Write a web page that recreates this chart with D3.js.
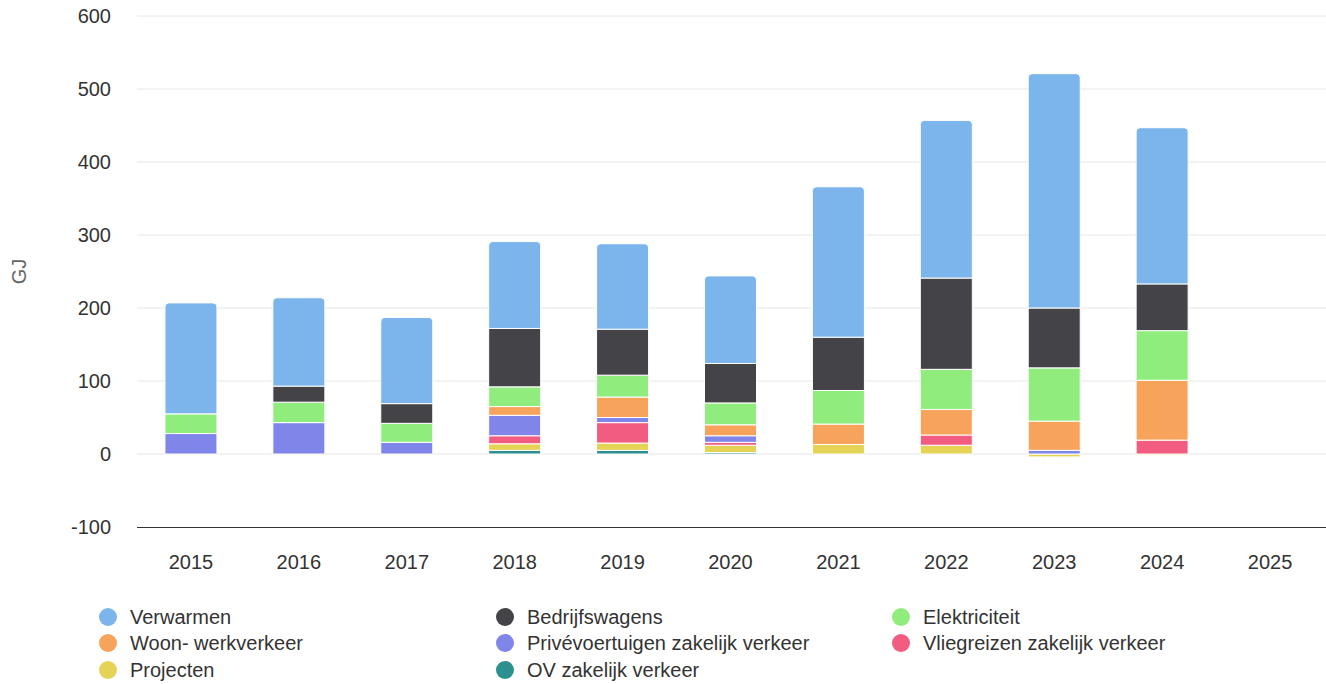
<!DOCTYPE html>
<html>
<head>
<meta charset="utf-8">
<script src="https://cdn.jsdelivr.net/npm/d3@7"></script>
<style>
  body { margin: 0; background: #fff; }
  svg text { font-family: "Liberation Sans", Arial, sans-serif; }
</style>
</head>
<body>
<script>
// chart data (GJ per year, per source)
var years = ["2015", "2016", "2017", "2018", "2019", "2020", "2021", "2022", "2023", "2024", "2025"];
var seriesNames = ["Verwarmen", "Bedrijfswagens", "Elektriciteit", "Woon- werkverkeer",
  "Privévoertuigen zakelijk verkeer", "Vliegreizen zakelijk verkeer", "Projecten", "OV zakelijk verkeer"];
var seriesColors = ["#7cb5ec", "#434348", "#90ed7d", "#f7a35c", "#8085e9", "#f15c80", "#e4d354", "#2b908f"];

var verwarmen      = [152, 121, 118, 119, 117, 120, 206, 216, 321, 214, null];
var bedrijfswagens = [0, 22, 27, 80, 63, 54, 73, 125, 82, 64, null];
var elektriciteit  = [27, 28, 26, 27, 30, 30, 46, 55, 73, 68, null];
var woonWerk       = [0, 0, 0, 12, 28, 15, 28, 35, 40, 82, null];
var privevoertuig  = [28, 43, 16, 28, 7, 9, 0, 0, 5, 0, null];
var vliegreizen    = [0, 0, 0, 11, 28, 4, 0, 14, 0, 19, null];
var projecten      = [0, 0, 0, 9, 10, 10, 13, 12, -4, -2, null];
var ovZakelijk     = [0, 0, 0, 5, 5, 2, 0, 0, 0, 0, null];

var yTicks = [-100, 0, 100, 200, 300, 400, 500, 600];
var yTitle = "GJ";

(function(){
  var W = 1326, H = 684;
  var plotL = 137, plotR = 1324, plotT = 16, plotB = 527;

  var allSeries = [verwarmen, bedrijfswagens, elektriciteit, woonWerk,
    privevoertuig, vliegreizen, projecten, ovZakelijk];

  var svg = d3.select("body").append("svg")
    .attr("width", W).attr("height", H);

  var x = d3.scaleBand().domain(years).range([plotL, plotR]).paddingInner(0).paddingOuter(0);
  var y = d3.scaleLinear().domain([-100, 600]).range([plotB, plotT]);
  var barW = 52;

  // gridlines
  svg.append("g").selectAll("line")
    .data(yTicks.filter(function(t){ return t !== -100; }))
    .enter().append("line")
    .attr("x1", plotL).attr("x2", W)
    .attr("y1", function(d){ return y(d); }).attr("y2", function(d){ return y(d); })
    .attr("stroke", "#e6e6e6").attr("stroke-width", 1);

  // y axis labels
  svg.append("g").selectAll("text")
    .data(yTicks).enter().append("text")
    .attr("x", 111).attr("y", function(d){ return y(d) + 7; })
    .attr("text-anchor", "end")
    .attr("font-size", 20).attr("fill", "#333")
    .text(function(d){ return d; });

  svg.append("text")
    .attr("transform", "translate(26," + ((plotT + plotB) / 2) + ") rotate(-90)")
    .attr("text-anchor", "middle")
    .attr("font-size", 20).attr("fill", "#666")
    .text(yTitle);

  // stack: last series at bottom, first on top (highcharts order)
  var segs = [];
  years.forEach(function(yr, i){
    var pos = 0, neg = 0;
    var list = [];
    for (var s = allSeries.length - 1; s >= 0; s--) {
      var v = allSeries[s][i];
      if (v == null || v === 0) continue;
      if (v > 0) { list.push({yr: yr, s: s, y0: pos, y1: pos + v}); pos += v; }
      else { list.push({yr: yr, s: s, y0: neg + v, y1: neg}); neg += v; }
    }
    // mark stack ends for rounded corners
    var tops = list.filter(function(d){ return d.y0 >= 0; });
    if (tops.length) tops[tops.length - 1].roundTop = true;
    var bots = list.filter(function(d){ return d.y1 <= 0 && d.y0 < 0; });
    if (bots.length) bots[bots.length - 1].roundBottom = true;
    segs = segs.concat(list);
  });

  function segPath(d){
    var cx = x(d.yr) + x.bandwidth() / 2;
    var x0 = cx - barW / 2, x1 = cx + barW / 2;
    var yt = y(d.y1), yb = y(d.y0);
    var r = Math.min(4, (yb - yt) / 2);
    var p = d3.path();
    if (d.roundTop) {
      p.moveTo(x0, yb);
      p.lineTo(x0, yt + r);
      p.arcTo(x0, yt, x0 + r, yt, r);
      p.lineTo(x1 - r, yt);
      p.arcTo(x1, yt, x1, yt + r, r);
      p.lineTo(x1, yb);
      p.closePath();
    } else if (d.roundBottom) {
      p.moveTo(x0, yt);
      p.lineTo(x1, yt);
      p.lineTo(x1, yb - r);
      p.arcTo(x1, yb, x1 - r, yb, r);
      p.lineTo(x0 + r, yb);
      p.arcTo(x0, yb, x0, yb - r, r);
      p.closePath();
    } else {
      p.rect(x0, yt, barW, yb - yt);
    }
    return p.toString();
  }

  svg.append("g").selectAll("path")
    .data(segs).enter().append("path")
    .attr("d", segPath)
    .attr("fill", function(d){ return seriesColors[d.s]; })
    .attr("stroke", "#fff").attr("stroke-width", 1);

  // x axis line and labels
  svg.append("line")
    .attr("x1", plotL).attr("x2", W)
    .attr("y1", plotB + 0.5).attr("y2", plotB + 0.5)
    .attr("stroke", "#333").attr("stroke-width", 1);

  svg.append("g").selectAll("text")
    .data(years).enter().append("text")
    .attr("x", function(d){ return x(d) + x.bandwidth() / 2; })
    .attr("y", 569)
    .attr("text-anchor", "middle")
    .attr("font-size", 20).attr("fill", "#333")
    .text(function(d){ return d; });

  // legend, 3 columns
  var colX = [108, 505, 901], rowY = [617, 643, 670];
  var legend = svg.append("g").selectAll("g")
    .data(seriesNames).enter().append("g")
    .attr("transform", function(d, i){
      return "translate(" + colX[i % 3] + "," + rowY[Math.floor(i / 3)] + ")";
    });
  legend.append("circle").attr("r", 9)
    .attr("fill", function(d, i){ return seriesColors[i]; });
  legend.append("text")
    .attr("x", 22).attr("y", 7)
    .attr("font-size", 20).attr("fill", "#333")
    .text(function(d){ return d; });
})();
</script>
</body>
</html>
